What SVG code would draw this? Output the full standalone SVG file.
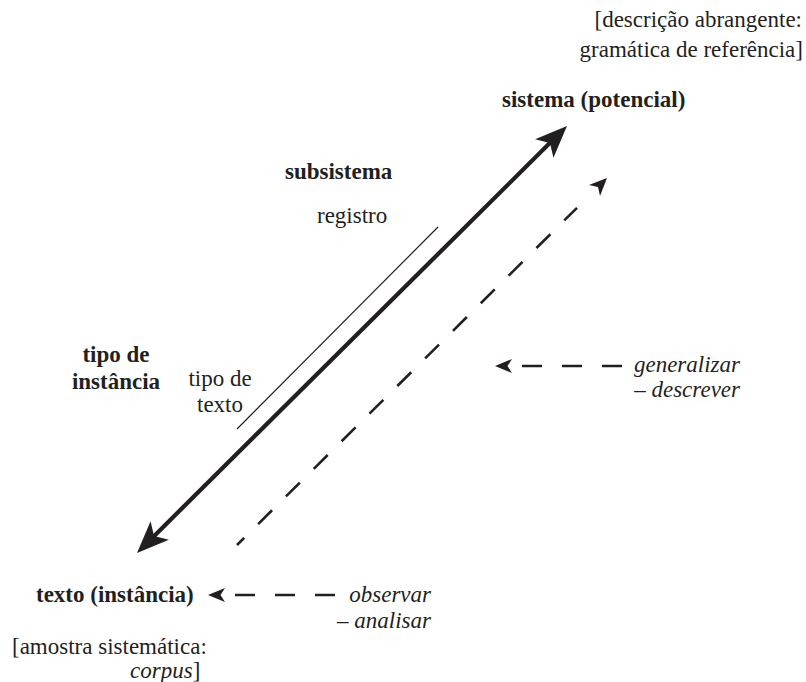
<svg xmlns="http://www.w3.org/2000/svg" width="806" height="682" viewBox="0 0 806 682">
  <style>
    text { font-family: "Liberation Serif", "Times New Roman", "DejaVu Serif", serif; font-size: 23px; fill: #231f20; }
    .b { font-weight: bold; }
    .i { font-style: italic; }
    .m { text-anchor: middle; }
    .e { text-anchor: end; }
    .axis { stroke: #231f20; stroke-width: 4.2; fill: none; }
    .thin { stroke: #231f20; stroke-width: 1.2; fill: none; }
    .dash { stroke: #231f20; stroke-width: 2.6; fill: none; stroke-dasharray: 19.6 19.6; }
    .hdash { stroke-dasharray: 20 20; }
    .head { fill: #231f20; }
  </style>
  <defs>
    <!-- large notched arrowhead; tip sits 20 units beyond the line end -->
    <marker id="bigHead" markerUnits="userSpaceOnUse" viewBox="-15 -15 40 30" markerWidth="40" markerHeight="30" refX="0" refY="0" orient="auto-start-reverse">
      <path class="head" d="M20,0 L-12,-13 L-4,0 L-12,13 Z"/>
    </marker>
  </defs>

  <!-- connectors -->
  <g id="connectors">
    <!-- cline between system and instance -->
    <line class="axis" x1="151.2" y1="538.9" x2="552.8" y2="140.1" marker-start="url(#bigHead)" marker-end="url(#bigHead)"/>
    <!-- register / text type band -->
    <line class="thin" x1="237" y1="429" x2="438" y2="227"/>
    <!-- generalisation path -->
    <path class="dash" d="M237,545 L577,207.8" stroke-dashoffset="9.45"/>
    <path class="head" d="M607,178 L589,185 L598,187 L600,196 Z"/>
    <!-- describe -->
    <path class="dash hdash" d="M522,366 L622,366"/>
    <path class="head" d="M495,366 L512,359 L507.5,366 L512,373 Z"/>
    <!-- analyse -->
    <path class="dash hdash" d="M235,595 L335,595"/>
    <path class="head" d="M208,595 L225,588 L220.5,595 L225,602 Z"/>
  </g>

  <g id="reference-grammar">
    <text class="e" x="802" y="27">[descrição abrangente:</text>
    <text class="e" x="803" y="57">gramática de referência]</text>
  </g>

  <g id="sistema">
    <text class="b" x="502" y="107">sistema (potencial)</text>
  </g>

  <g id="subsistema">
    <text class="b" x="285" y="179">subsistema</text>
  </g>

  <g id="registro">
    <text x="317" y="223">registro</text>
  </g>

  <g id="tipo-instancia">
    <text class="b m" x="116" y="362">tipo de</text>
    <text class="b m" x="116" y="389">instância</text>
  </g>

  <g id="tipo-texto">
    <text class="m" x="220" y="386">tipo de</text>
    <text class="m" x="220" y="412">texto</text>
  </g>

  <g id="generalizar">
    <text class="i e" x="740" y="372">generalizar</text>
    <text class="i e" x="740" y="397">– descrever</text>
  </g>

  <g id="texto-instancia">
    <text class="b" x="36" y="602">texto (instância)</text>
  </g>

  <g id="observar">
    <text class="i e" x="431" y="602">observar</text>
    <text class="i e" x="431" y="628">– analisar</text>
  </g>

  <g id="corpus">
    <text x="12" y="654">[amostra sistemática:</text>
    <text x="130" y="678"><tspan class="i">corpus</tspan>]</text>
  </g>
</svg>
